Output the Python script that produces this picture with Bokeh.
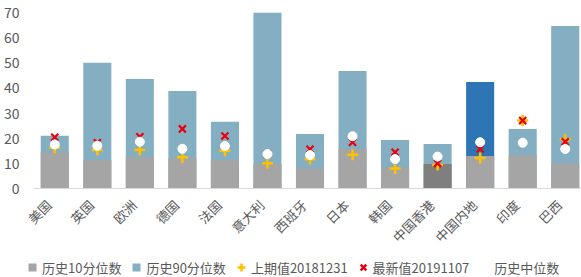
import math
from bokeh.plotting import figure
from bokeh.layouts import column
from bokeh.models import (ColumnDataSource, Legend, LegendItem, Range1d,
                          LinearAxis, FixedTicker)
from bokeh.embed import file_html
from bokeh.resources import INLINE

categories = ["美国", "英国", "欧洲", "德国", "法国", "意大利", "西班牙", "日本",
              "韩国", "中国香港", "中国内地", "印度", "巴西"]
p10 = [14.4, 11.3, 12.4, 12.0, 11.3, 9.7, 8.0, 15.7, 8.3, 9.7, 12.9, 13.3, 10.0]
p90 = [21.0, 50.0, 43.6, 38.8, 26.5, 70.0, 21.7, 46.7, 19.3, 17.7, 42.4, 23.7, 64.6]
prev = [16.2, 15.3, 15.3, 12.4, 15.0, 10.0, 11.6, 13.4, 8.0, 9.3, 12.1, 27.0, 19.6]
latest = [20.4, 18.2, 20.6, 23.7, 20.9, 13.7, 15.6, 18.4, 14.4, 10.0, 15.7, 27.0, 18.6]
median = [17.5, 17.0, 18.6, 15.8, 16.9, 13.7, 13.3, 20.8, 11.7, 12.7, 18.4, 18.2, 15.7]
y_ticks = [0, 10, 20, 30, 40, 50, 60, 70]

labels = ["历史10分位数", "历史90分位数", "上期值20181231", "最新值20191107", "历史中位数"]

GREY = "#A5A5A5"
BLUE = "#84AEC2"
YEL = "#FFC000"
RED = "#E8000B"
grey_cols = ["#7F7F7F" if c == "中国香港" else GREY for c in categories]
blue_cols = ["#2E75B6" if c == "中国内地" else BLUE for c in categories]

n = len(categories)
idx = list(range(n))
src = ColumnDataSource(dict(xi=idx, cat=categories, p10=p10, p90=p90, prev=prev,
                            latest=latest, median=median,
                            gc=grey_cols, bc=blue_cols))

FONT = "Noto Sans CJK SC"
TXT = "#595959"

p = figure(x_range=Range1d(-0.5, n - 0.5), y_range=Range1d(0, 70),
           frame_width=553, frame_height=176, output_backend="svg", toolbar_location=None,
           min_border_left=27, min_border_right=1, min_border_top=12,
           min_border_bottom=65)
p.outline_line_color = None
p.xgrid.visible = False
p.ygrid.visible = False

p.vbar(x="xi", top="p90", width=0.66, source=src, fill_color="bc", line_color=None)
p.vbar(x="xi", top="p10", width=0.66, source=src, fill_color="gc", line_color=None)
p.scatter(x="xi", y="prev", source=src, marker="cross", size=11,
          line_color=YEL, line_width=2.5)
p.scatter(x="xi", y="latest", source=src, marker="x", size=10,
          line_color=RED, line_width=2.2)
p.scatter(x="xi", y="median", source=src, marker="circle", size=9,
          fill_color="white", line_color="white")

# category labels: index axis nudged slightly left so label ends sit at the bar centres
p.xaxis.visible = False
shift = 0.14
p.extra_x_ranges = {"lab": Range1d(-0.5 + shift, n - 0.5 + shift)}
xax = LinearAxis(x_range_name="lab", ticker=FixedTicker(ticks=idx),
                 major_label_overrides={i: c for i, c in zip(idx, categories)})
xax.major_label_orientation = math.pi / 4
xax.major_label_text_font = FONT
xax.major_label_text_font_size = "13px"
xax.major_label_text_color = TXT
xax.major_label_text_baseline = "top"
xax.major_tick_line_color = None
xax.minor_tick_line_color = None
xax.axis_line_color = "#D9D9D9"
xax.major_label_standoff = 8
p.add_layout(xax, "below")

p.yaxis.ticker = y_ticks
p.yaxis.major_label_text_font = FONT
p.yaxis.major_label_text_font_size = "14px"
p.yaxis.major_label_text_color = TXT
p.yaxis.major_tick_line_color = None
p.yaxis.minor_tick_line_color = None
p.yaxis.axis_line_color = None
p.yaxis.major_label_standoff = 8

# legend strip below the chart
lg = figure(x_range=Range1d(0, 1), y_range=Range1d(0, 1),
            frame_width=581, frame_height=24, output_backend="svg",
            toolbar_location=None, min_border=0)
lg.axis.visible = False
lg.grid.visible = False
lg.outline_line_color = None

nan_src = ColumnDataSource(dict(x=[0.5], y=[float("nan")]))
l10 = lg.scatter(x="x", y="y", source=nan_src, marker="square", size=8, fill_color=GREY, line_color=None)
l90 = lg.scatter(x="x", y="y", source=nan_src, marker="square", size=8, fill_color=BLUE, line_color=None)
lpr = lg.scatter(x="x", y="y", source=nan_src, marker="cross", size=9, line_color=YEL, line_width=2.5)
llt = lg.scatter(x="x", y="y", source=nan_src, marker="x", size=9, line_color=RED, line_width=2.5)
lmd = lg.scatter(x="x", y="y", source=nan_src, marker="circle", size=8, fill_color="white", line_color="white")

legend = Legend(items=[LegendItem(label=labels[0], renderers=[l10]),
                       LegendItem(label=labels[1], renderers=[l90]),
                       LegendItem(label=labels[2], renderers=[lpr]),
                       LegendItem(label=labels[3], renderers=[llt]),
                       LegendItem(label=labels[4], renderers=[lmd])],
                orientation="horizontal", location=(22, 2),
                glyph_width=20, glyph_height=20, label_standoff=0, spacing=5,
                padding=0, margin=0, border_line_color=None,
                background_fill_alpha=0,
                label_text_font=FONT, label_text_font_size="13px",
                label_text_color=TXT)
lg.add_layout(legend, "center")

layout = column(p, lg, spacing=0)
open("out.html", "w").write(file_html(layout, INLINE))
